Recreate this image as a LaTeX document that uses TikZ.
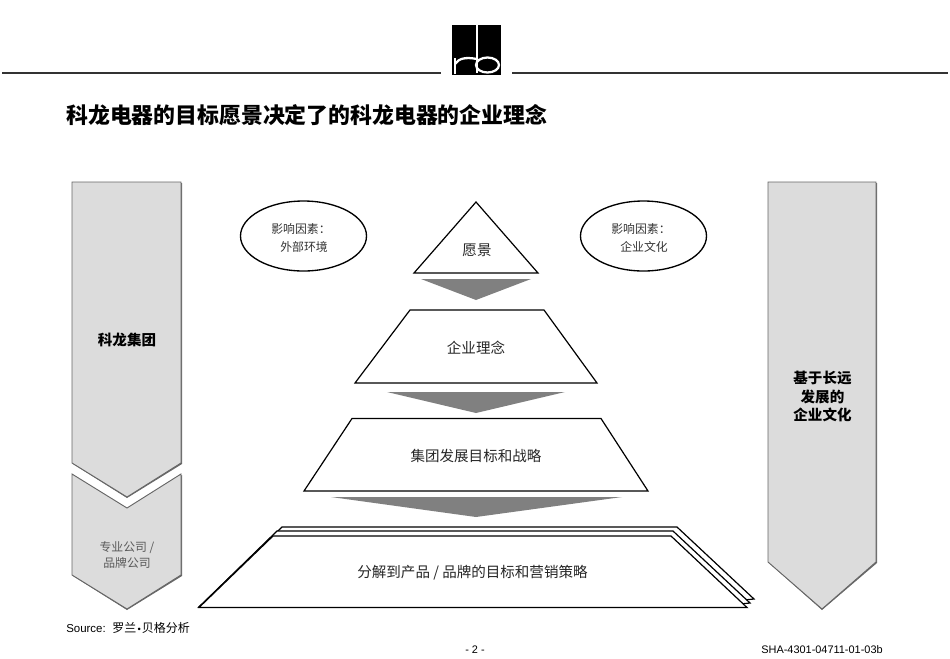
\documentclass[tikz,border=0pt]{standalone}
\usepackage{fontspec}
\setmainfont{Liberation Sans}
\newfontfamily\cjk{Noto Sans CJK SC}
\definecolor{panelgray}{HTML}{DCDCDC}
\definecolor{wedgegray}{HTML}{808080}
\definecolor{edgegray}{HTML}{666666}
\definecolor{ruledark}{HTML}{333333}
\tikzset{
  panel/.style={fill=panelgray,draw=edgegray,line width=0.7pt,line join=miter},
  panelshadow/.style={fill=edgegray,draw=none},
  wedge/.style={fill=wedgegray,draw=none},
  tier/.style={fill=white,draw=black,line width=0.9pt,line join=miter},
  oval/.style={ellipse,draw=black,line width=1pt,minimum width=94.5pt,minimum height=52.5pt,inner sep=0pt},
  lab/.style={font=\cjk\fontsize{10.9}{13}\selectfont,text=black!85,align=center,inner sep=0pt},
  small/.style={font=\cjk\fontsize{8.9}{12.6}\selectfont,text=black!80,align=center,inner sep=0pt},
  side/.style={font=\cjk\bfseries\fontsize{10.9}{13.6}\selectfont,text=black,align=center,inner sep=0pt},
  foot/.style={font=\fontsize{8.2}{10}\selectfont,text=black,inner sep=0pt}
}
\usetikzlibrary{shapes.geometric}
\begin{document}
\begin{tikzpicture}[x=0.75pt,y=-0.75pt]
\useasboundingbox (0,0) rectangle (950,658);
% header
\coordinate (ruleAa) at (2,73); \coordinate (ruleAb) at (441,73);
\coordinate (ruleBa) at (512,73); \coordinate (ruleBb) at (948,73);
\draw[ruledark,line width=0.9pt] (ruleAa) -- (ruleAb);
\draw[ruledark,line width=0.9pt] (ruleBa) -- (ruleBb);
\fill[black] (452,25) rectangle (501,75);
\draw[white,line width=1.7pt] (477,25) -- (477,73);
\draw[white,line width=1.7pt] (455,74) -- (455,58);
\draw[white,line width=1.7pt] (455,64) .. controls (459,58) and (466,57) .. (477,59);
\draw[white,line width=1.7pt] (487.5,65) ellipse [x radius=11.5,y radius=7.5];
\node[anchor=west,inner sep=0pt,font=\cjk\bfseries\fontsize{16.4}{20}\selectfont] (title) at (66,115) {科龙电器的目标愿景决定了的科龙电器的企业理念};
% left arrows
\fill[panelshadow] (73,183) -- (182,183) -- (182,464) -- (127,498) -- (73,464) -- cycle;
\draw[panel] (72,182) -- (181,182) -- (181,463) -- (127,497) -- (72,463) -- cycle;
\fill[panelshadow] (73,475) -- (127,509) -- (182,475) -- (182,576) -- (127,610) -- (73,576) -- cycle;
\draw[panel] (72,474) -- (127,508) -- (181,474) -- (181,575) -- (127,609) -- (72,575) -- cycle;
% right arrow
\fill[panelshadow] (769,183) -- (877,183) -- (877,563) -- (822,610) -- (769,563) -- cycle;
\draw[panel] (768,182) -- (876,182) -- (876,562) -- (822,609) -- (768,562) -- cycle;
\node[side] (leftA) at (127,340) {科龙集团};
\node[small,text=black!65] (leftB) at (127,555) {专业公司 /\\品牌公司};
\node[side] (rightA) at (822.5,396.5) {基于长远\\发展的\\企业文化};
% ovals
\node[oval] (ovalL) at (303.5,236) {};
\node[oval] (ovalR) at (643.5,236) {};
\node[small] (ovalLa) at (301,229) {影响因素：};
\node[small] (ovalLb) at (304,246.5) {外部环境};
\node[small] (ovalRa) at (641,229) {影响因素：};
\node[small] (ovalRb) at (644,246.5) {企业文化};
% pyramid
\draw[tier] (476,202) -- (538,273) -- (414,273) -- cycle;
\fill[wedge] (421,279) -- (531,279) -- (476,300) -- cycle;
\draw[tier] (410,310) -- (544,310) -- (597,383) -- (355,383) -- cycle;
\fill[wedge] (387,392) -- (565,392) -- (476,413) -- cycle;
\draw[tier] (352,418.5) -- (601,418.5) -- (648,491) -- (304,491) -- cycle;
\fill[wedge] (331,497) -- (622,497) -- (476,517) -- cycle;
\draw[tier] (199,607) -- (282,527) -- (677,527) -- (754,599) -- (744,600) -- cycle;
\draw[tier] (199,607) -- (277,531) -- (673,531) -- (750,603) -- (740,604) -- cycle;
\draw[tier] (199,607.5) -- (273,536) -- (671,536) -- (747,607.5) -- cycle;
\node[lab] (t1) at (477,250.5) {愿景};
\node[lab] (t2) at (476,347.5) {企业理念};
\node[lab] (t3) at (476,455.5) {集团发展目标和战略};
\node[lab] (t4) at (472.5,572.5) {分解到产品 / 品牌的目标和营销策略};
% footer
\node[foot,anchor=west,font=\fontsize{8.6}{10}\selectfont] (src) at (66,628) {Source:\hspace{5pt}{\cjk\fontsize{9}{10}\selectfont 罗兰}\hspace{0.8pt}\raisebox{0.3pt}{\fontsize{7}{8}\selectfont•}\hspace{0.8pt}{\cjk\fontsize{9}{10}\selectfont 贝格分析}};
\node[foot] (page) at (475,650) {- 2 -};
\node[foot] (code) at (822,650) {SHA-4301-04711-01-03b};
\end{tikzpicture}
\end{document}
